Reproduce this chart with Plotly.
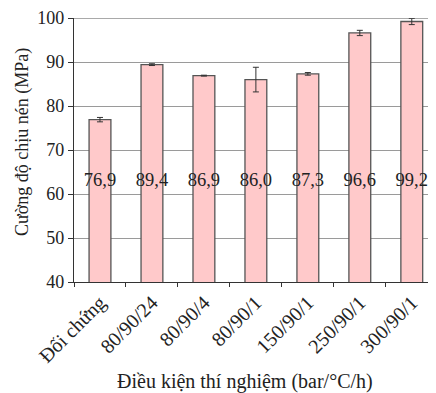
import plotly.graph_objects as go

categories = ["Đối chứng", "80/90/24", "80/90/4", "80/90/1", "150/90/1", "250/90/1", "300/90/1"]
values = [76.9, 89.4, 86.9, 86.0, 87.3, 96.6, 99.2]
errors = [0.5, 0.2, 0.1, 2.8, 0.3, 0.6, 0.7]
value_labels = ["76,9", "89,4", "86,9", "86,0", "87,3", "96,6", "99,2"]
label_y = 62.8
y_ticks = [40, 50, 60, 70, 80, 90, 100]
x_title = "Điều kiện thí nghiệm (bar/°C/h)"
y_title = "Cường độ chịu nén (MPa)"

FONT = "Liberation Serif, Times New Roman, serif"
TXT = "#222222"

fig = go.Figure()
fig.add_trace(go.Bar(
    x=categories, y=values, width=0.42,
    marker=dict(color="#FFC9CA", line=dict(color="#555555", width=1.3)),
    error_y=dict(type="data", array=errors, color="#333333", thickness=1, width=3),
    showlegend=False, hoverinfo="skip",
))
fig.add_trace(go.Scatter(
    x=categories, y=[label_y] * len(categories), mode="text",
    text=value_labels, textfont=dict(family=FONT, size=18.5, color=TXT),
    showlegend=False, hoverinfo="skip", cliponaxis=False,
))
fig.add_shape(type="line", xref="paper", yref="y", x0=0, x1=1, y0=100, y1=100,
              line=dict(color="#555555", width=1.2))

fig.add_annotation(text=y_title, textangle=-90, xref="paper", yref="paper",
                   x=0, y=0.53, xanchor="center", yanchor="middle", xshift=-52,
                   showarrow=False, font=dict(family=FONT, size=18, color=TXT))
fig.add_annotation(text=x_title, xref="paper", yref="paper",
                   x=0.462, y=-0.376, xanchor="center", yanchor="middle",
                   showarrow=False, font=dict(family=FONT, size=20, color=TXT))

fig.update_layout(
    width=436, height=393,
    margin=dict(l=66, r=0, t=10, b=119, autoexpand=False),
    paper_bgcolor="white", plot_bgcolor="white",
    font=dict(family=FONT, color=TXT),
    xaxis=dict(
        type="category", range=[-0.5, 6.62], tickson="boundaries",
        ticks="outside", ticklen=4, tickcolor="#333333",
        showline=True, linecolor="#333333", linewidth=1.2,
        tickangle=-45, tickfont=dict(family=FONT, size=20, color=TXT),
        showgrid=False,
    ),
    yaxis=dict(
        range=[40, 100], tickvals=y_ticks,
        ticks="outside", ticklen=5, tickcolor="#333333",
        showline=True, linecolor="#333333", linewidth=1.2,
        tickfont=dict(family=FONT, size=18, color=TXT),
        ticklabeloverflow="allow",
        showgrid=True, gridcolor="#9a9a9a", gridwidth=1.2,
        zeroline=False,
    ),
)

fig.write_html("out.html")
